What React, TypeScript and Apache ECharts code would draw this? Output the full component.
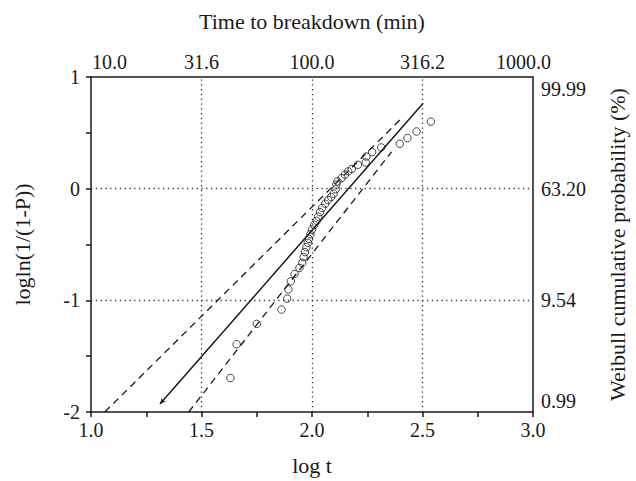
import React, { useEffect, useRef } from "react";
import * as echarts from "echarts";

const logT: number[] = [
  1.631, 1.659, 1.75, 1.862, 1.888, 1.893, 1.904, 1.921, 1.943, 1.956,
  1.962, 1.968, 1.975, 1.981, 1.986, 1.993, 2.0, 2.01, 2.021, 2.028,
  2.036, 2.046, 2.06, 2.073, 2.087, 2.098, 2.107, 2.11, 2.115, 2.134,
  2.149, 2.164, 2.18, 2.208, 2.243, 2.246, 2.272, 2.313, 2.397, 2.432,
  2.473, 2.538,
];
const loglnP: number[] = [
  -1.696, -1.393, -1.211, -1.083, -0.985, -0.902, -0.83, -0.765, -0.71, -0.664,
  -0.612, -0.568, -0.524, -0.485, -0.449, -0.408, -0.366, -0.325, -0.288, -0.25,
  -0.21, -0.172, -0.135, -0.102, -0.075, -0.045, -0.005, 0.036, 0.065, 0.095,
  0.125, 0.155, 0.176, 0.214, 0.235, 0.288, 0.328, 0.369, 0.402, 0.453,
  0.512, 0.6,
];
const fitX: number[] = [1.312, 2.503];
const fitY: number[] = [-1.929, 0.765];
const upperX: number[] = [1.0625, 2.4];
const upperY: number[] = [-2.0, 0.62];
const lowerX: number[] = [1.442, 2.36];
const lowerY: number[] = [-2.0, 0.33];
const xGridValues: number[] = [1.5, 2.0, 2.5];
const yGridValues: number[] = [0, -1];
const topTickLabels: string[] = ["10.0", "31.6", "100.0", "316.2", "1000.0"];
const rightTickValues: number[] = [-2, -1, 0, 1];
const rightTickLabels: string[] = ["0.99", "9.54", "63.20", "99.99"];

const FONT = "Liberation Serif";
const INK = "#1a1a1a";
const TICK_FS = 20;
const NAME_FS = 22;

export default function App() {
  const ref = useRef<HTMLDivElement>(null);
  useEffect(() => {
    if (!ref.current) return;
    const chart = echarts.init(ref.current, null, { renderer: "svg" });
    const dotted = { color: "#333", width: 1.3, type: [1.3, 3.5] as any };
    const axisLine = { show: true, onZero: false, lineStyle: { color: INK, width: 1.5 } };
    const tick = { show: true, inside: false, length: 5, lineStyle: { color: INK, width: 1.5 } };
    const pts = logT.map((x, i) => [x, loglnP[i]]);
    const fitData = fitX.map((x, i) => [x, fitY[i]]);
    const isHalf = (v: number) => Math.abs(v * 2 - Math.round(v * 2)) < 1e-6;
    const txt = { fontFamily: FONT, fontSize: TICK_FS, color: INK };
    chart.setOption({
      animation: false,
      backgroundColor: "#fff",
      textStyle: { fontFamily: FONT, color: INK },
      grid: { left: 91, right: 97, top: 77, bottom: 68, containLabel: false },
      xAxis: [
        {
          type: "value",
          position: "bottom",
          min: 1,
          max: 3,
          interval: 0.25,
          name: "log t",
          nameLocation: "middle",
          nameGap: 42,
          nameTextStyle: { fontFamily: FONT, fontSize: NAME_FS, color: INK },
          axisLine,
          axisTick: tick,
          axisLabel: {
            margin: 8,
            ...txt,
            formatter: (v: number) => (isHalf(v) ? v.toFixed(1) : ""),
          },
          splitLine: { show: false },
        },
        {
          type: "value",
          position: "top",
          min: 1,
          max: 3,
          interval: 0.5,
          name: "Time to breakdown (min)",
          nameLocation: "middle",
          nameGap: 45,
          nameTextStyle: { fontFamily: FONT, fontSize: NAME_FS, color: INK },
          axisLine,
          axisTick: { show: false },
          axisLabel: {
            margin: 5,
            ...txt,
            formatter: (v: number) => {
              const i = Math.round((v - 1) / 0.5);
              const t = topTickLabels[i] ?? "";
              if (i === 0) return "{first|" + t + "}";
              if (i === topTickLabels.length - 1) return "{last|" + t + "}";
              return "{mid|" + t + "}";
            },
            rich: {
              first: { ...txt, padding: [0, 0, 0, 37] },
              last: { ...txt, padding: [0, 19, 0, 0] },
              mid: { ...txt },
            },
          },
          splitLine: { show: false },
        },
      ],
      yAxis: [
        {
          type: "value",
          position: "left",
          min: -2,
          max: 1,
          interval: 0.5,
          name: "logln(1/(1-P))",
          nameLocation: "middle",
          nameGap: 58,
          nameTextStyle: { fontFamily: FONT, fontSize: NAME_FS, color: INK },
          axisLine,
          axisTick: tick,
          axisLabel: {
            margin: 11,
            ...txt,
            formatter: (v: number) => (Math.abs(v - Math.round(v)) < 1e-6 ? String(Math.round(v)) : ""),
          },
          splitLine: { show: false },
        },
        {
          type: "value",
          position: "right",
          min: -2,
          max: 1,
          interval: 1,
          name: "Weibull cumulative probability (%)",
          nameLocation: "middle",
          nameGap: 73,
          nameRotate: 90,
          nameTextStyle: { fontFamily: FONT, fontSize: NAME_FS, color: INK },
          axisLine,
          axisTick: { show: false },
          axisLabel: {
            margin: 8,
            ...txt,
            formatter: (v: number) => {
              const idx = rightTickValues.indexOf(Math.round(v));
              const t = idx >= 0 ? rightTickLabels[idx] : "";
              if (Math.round(v) === 1) return "{top|" + t + "}";
              if (Math.round(v) === -2) return "{bot|" + t + "}";
              return "{mid|" + t + "}";
            },
            rich: {
              top: { ...txt, padding: [24, 0, 0, 0] },
              bot: { ...txt, padding: [0, 0, 22, 0] },
              mid: { ...txt },
            },
          },
          splitLine: { show: false },
        },
      ],
      series: [
        {
          type: "line",
          xAxisIndex: 0,
          yAxisIndex: 0,
          data: [],
          silent: true,
          markLine: {
            silent: true,
            symbol: "none",
            label: { show: false },
            lineStyle: dotted,
            data: [
              ...xGridValues.map((v) => ({ xAxis: v })),
              ...yGridValues.map((v) => ({ yAxis: v })),
            ],
          },
          z: 1,
        },
        {
          type: "line",
          xAxisIndex: 0,
          yAxisIndex: 0,
          data: upperX.map((x, i) => [x, upperY[i]]),
          showSymbol: false,
          symbol: "none",
          lineStyle: { color: INK, width: 1.3, type: [7, 5] },
          z: 3,
        },
        {
          type: "line",
          xAxisIndex: 0,
          yAxisIndex: 0,
          data: lowerX.map((x, i) => [x, lowerY[i]]),
          showSymbol: false,
          symbol: "none",
          lineStyle: { color: INK, width: 1.3, type: [7, 5] },
          z: 3,
        },
        {
          type: "line",
          xAxisIndex: 0,
          yAxisIndex: 0,
          data: [
            { value: fitData[0], symbol: "arrow", symbolSize: [4, 6], symbolRotate: 139 },
            { value: fitData[1], symbol: "none" },
          ],
          showSymbol: true,
          showAllSymbol: true,
          itemStyle: { color: INK },
          lineStyle: { color: INK, width: 1.5 },
          z: 4,
        },
        {
          type: "scatter",
          xAxisIndex: 0,
          yAxisIndex: 0,
          data: pts,
          symbol: "circle",
          symbolSize: 7.5,
          itemStyle: { color: "rgba(255,255,255,0)", borderColor: INK, borderWidth: 1 },
          z: 5,
        },
      ],
    });
    return () => chart.dispose();
  }, []);
  return (
    <div
      ref={ref}
      style={{ position: "fixed", left: 0, top: 0, width: 636, height: 481, background: "#fff" }}
    />
  );
}
